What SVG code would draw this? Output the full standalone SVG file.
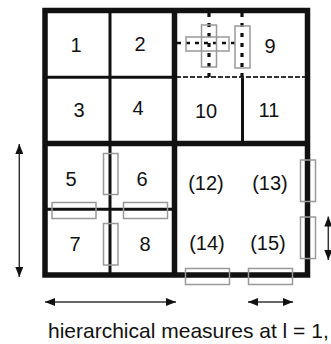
<svg xmlns="http://www.w3.org/2000/svg" width="331" height="344" viewBox="0 0 331 344">
<style>
.thick{stroke:#111;stroke-width:5.5;fill:none}
.thin{stroke:#111;stroke-width:3;fill:none}
.dot{stroke:#111;stroke-width:3.2;fill:none;stroke-dasharray:4 6}
.dash{stroke:#111;stroke-width:2.5;fill:none;stroke-dasharray:4 5}
.sep{stroke:#333;stroke-width:2;fill:none;stroke-dasharray:5 2}
.win{stroke:#999;stroke-width:1.5;fill:none}
.arr{stroke:#333;stroke-width:1.5;fill:none;marker-start:url(#ah);marker-end:url(#ah)}
text{font-family:"Liberation Sans",Arial,sans-serif;font-size:20px;fill:#111;text-anchor:middle}
.cap{font-size:21px;text-anchor:start}
</style>
<defs>
<marker id="ah" markerUnits="userSpaceOnUse" viewBox="0 0 10 8" markerWidth="10" markerHeight="8" refX="10" refY="4" orient="auto-start-reverse">
<path d="M0,0 L10,4 L0,8 z" fill="#111"/>
</marker>
</defs>
<g id="grid">
<line class="thin" x1="110" y1="10.5" x2="110" y2="275"/>
<line class="thin" x1="45" y1="77.3" x2="174.5" y2="77.3"/>
<line class="thin" x1="45" y1="209.3" x2="177" y2="209.3"/>
<line class="thin" x1="242.5" y1="77" x2="242.5" y2="143.5"/>
<line class="sep" x1="176" y1="77" x2="306" y2="77"/>
<line class="dot" x1="209" y1="13" x2="209" y2="80"/>
<line class="dot" x1="242" y1="13" x2="242" y2="80"/>
<line class="dash" x1="177" y1="43" x2="236" y2="43"/>
<line class="thick" x1="174.5" y1="10.5" x2="174.5" y2="275"/>
<line class="thick" x1="45" y1="143.5" x2="307.5" y2="143.5"/>
<rect class="thick" x="45" y="10.5" width="262.5" height="264.5"/>
</g>
<g id="windows">
<rect class="win" x="186" y="37" width="43" height="14"/>
<rect class="win" x="201.5" y="25" width="15" height="42"/>
<rect class="win" x="235" y="26" width="15" height="42"/>
<rect class="win" x="103.5" y="153.5" width="14.5" height="41"/>
<rect class="win" x="103.5" y="223.5" width="14.5" height="41.5"/>
<rect class="win" x="52" y="202.5" width="44" height="16"/>
<rect class="win" x="123.5" y="202.5" width="44" height="16"/>
<rect class="win" x="300.5" y="160" width="15" height="41.5"/>
<rect class="win" x="300.5" y="217" width="15" height="41.5"/>
<rect class="win" x="185.5" y="268.5" width="44" height="16"/>
<rect class="win" x="248.5" y="268.5" width="44" height="16"/>
</g>
<g id="n1"><text x="76" y="52">1</text></g>
<g id="n2"><text x="140" y="51">2</text></g>
<g id="n3"><text x="79" y="117">3</text></g>
<g id="n4"><text x="138" y="115">4</text></g>
<g id="n9"><text x="270" y="53">9</text></g>
<g id="n10"><text x="206" y="118">10</text></g>
<g id="n11"><text x="269" y="117">11</text></g>
<g id="n5"><text x="71" y="186">5</text></g>
<g id="n6"><text x="142" y="186">6</text></g>
<g id="n7"><text x="75" y="251">7</text></g>
<g id="n8"><text x="145" y="251">8</text></g>
<g id="n12"><text x="206" y="190">(12)</text></g>
<g id="n13"><text x="270" y="190">(13)</text></g>
<g id="n14"><text x="207" y="250">(14)</text></g>
<g id="n15"><text x="268" y="250">(15)</text></g>
<g id="connectors">
<line class="arr" x1="19.3" y1="144" x2="19.3" y2="277"/>
<line class="arr" x1="45" y1="302" x2="176" y2="302"/>
<line class="arr" x1="248" y1="302" x2="293" y2="302"/>
<line class="arr" x1="328.3" y1="216.5" x2="328.3" y2="260"/>
</g>
<g id="caption"><text class="cap" x="48" y="338">hierarchical measures at l = 1,</text></g>
</svg>
